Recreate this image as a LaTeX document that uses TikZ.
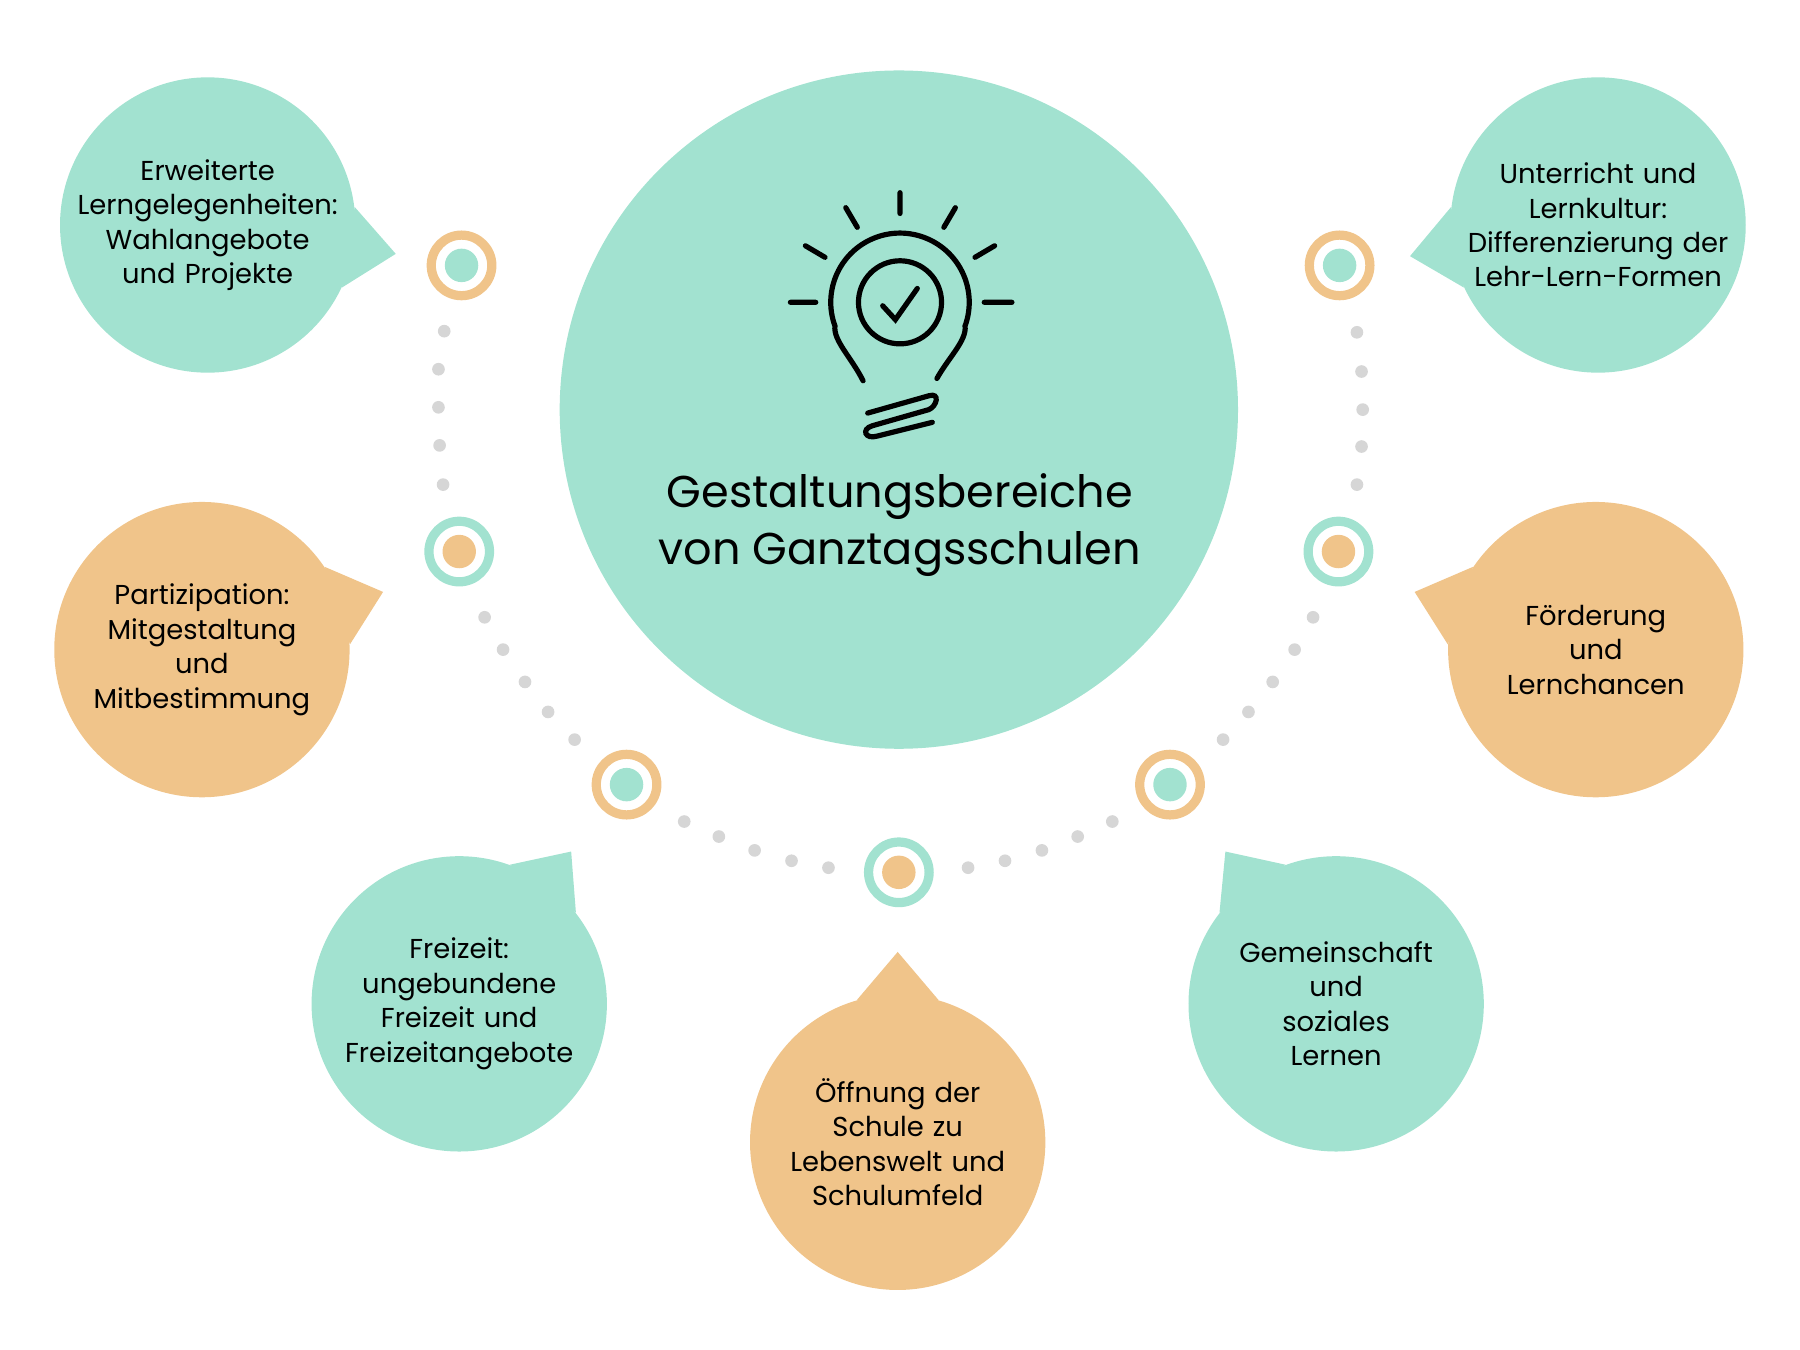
\documentclass[tikz,border=0pt]{standalone}
\usepackage{fontspec}
\setmainfont{Poppins}
\usetikzlibrary{positioning,calc}
\definecolor{mint}{HTML}{A2E2D0}
\definecolor{sand}{HTML}{F0C48A}
\definecolor{dotgray}{HTML}{D6D6D6}
\tikzset{
  bubble/.style={circle,minimum size=5.12cm,inner sep=0pt,text width=5cm,
    align=center,font=\fontsize{13.5}{17}\selectfont},
  mintbubble/.style={bubble,fill=mint},
  sandbubble/.style={bubble,fill=sand},
  ring/.style={circle,minimum size=1.05cm,inner sep=0pt,line width=0.16cm,draw=#1},
  hub/.style={circle,minimum size=0.58cm,inner sep=0pt,fill=#1},
  ray/.style={line width=0.09cm,line cap=round}
}
% tail of a speech bubble: node, angle, tip
\newcommand{\tail}[4]{\fill[#4] (#1.#2+16) -- (#3) -- (#1.#2-16) -- cycle;}
\begin{document}
\begin{tikzpicture}[x=0.02cm,y=-0.02cm]
  \useasboundingbox (0,0) rectangle (1560,1170);
  % centre
  \node (main) [circle,fill=mint,minimum size=11.76cm] at (779,355) {};
  \node (title) [align=center,font=\fontsize{22}{28}\selectfont] at (780,455)
    {Gestaltungsbereiche\\von Ganztagsschulen};
  % bulb
  \draw[ray] (780,167) -- (780,185) (733,180) -- (743,197) (828,180) -- (818,197)
    (698,213) -- (715,223) (862,213) -- (845,223) (685,262) -- (707,262) (853,262) -- (877,262);
  \draw[ray] (748,330) .. controls (738,310) and (722,295) .. ($(780,262)+(160:60)$)
    arc[start angle=160,end angle=380,radius=60]
    .. controls (838,295) and (822,310) .. (812,328);
  \draw[ray] (780,262) circle[radius=36];
  \draw[ray] (765,265) -- (776,277) -- (795,250);
  \draw[ray] (752,358) -- (805,343) .. controls (815,340) and (812,352) .. (805,355)
    -- (756,369) .. controls (746,372) and (750,381) .. (760,378) -- (808,366);
  % dots
  \foreach \p in {(385,287),(380,320),(380,353),(381,386),(384,420),
                  (420,535),(436,563),(455,591),(475,617),(498,641),
                  (593,712),(623,725),(654,737),(686,746),(718,752),
                  (1176,288),(1180,322),(1181,355),(1180,387),(1176,420),
                  (1138,535),(1122,563),(1103,591),(1082,617),(1060,641),
                  (964,712),(934,725),(903,737),(871,746),(839,752)}
    \fill[dotgray] \p circle[radius=5.5];
  % markers
  \node (r1) [ring=sand] at (400,230) {};   \node [hub=mint] at (r1) {};
  \node (r2) [ring=mint] at (398,478) {};   \node [hub=sand] at (r2) {};
  \node (r3) [ring=sand] at (543,680) {};   \node [hub=mint] at (r3) {};
  \node (r4) [ring=mint] at (779,756) {};   \node [hub=sand] at (r4) {};
  \node (r5) [ring=sand] at (1014,680) {};  \node [hub=mint] at (r5) {};
  \node (r6) [ring=mint] at (1160,478) {};  \node [hub=sand] at (r6) {};
  \node (r7) [ring=sand] at (1161,230) {};  \node [hub=mint] at (r7) {};
  % bubbles
  \coordinate (t1) at (343,220);  \coordinate (t2) at (332,513);
  \coordinate (t3) at (495,738);  \coordinate (t4) at (778,825);
  \coordinate (t5) at (1062,738); \coordinate (t6) at (1226,513);
  \coordinate (t7) at (1222,222);
  \node (b1) [mintbubble] at (180,195) {};
  \node (b2) [sandbubble] at (175,563) {};
  \node (b3) [mintbubble] at (398,870) {};
  \node (b4) [sandbubble] at (778,990) {};
  \node (b5) [mintbubble] at (1158,870) {};
  \node (b6) [sandbubble] at (1383,563) {};
  \node (b7) [mintbubble] at (1385,195) {};
  \tail{b1}{-9}{t1}{mint}   \tail{b2}{18}{t2}{sand}
  \tail{b3}{54}{t3}{mint}   \tail{b4}{90}{t4}{sand}
  \tail{b5}{126}{t5}{mint}  \tail{b6}{162}{t6}{sand}
  \tail{b7}{189}{t7}{mint}
  \node [bubble] at (b1) {Erweiterte\\Lerngelegenheiten:\\Wahlangebote\\und Projekte};
  \node [bubble] at (b2) {Partizipation:\\Mitgestaltung\\und\\Mitbestimmung};
  \node [bubble] at (b3) {Freizeit:\\ungebundene\\Freizeit und\\Freizeitangebote};
  \node [bubble] at (b4) {Öffnung der\\Schule zu\\Lebenswelt und\\Schulumfeld};
  \node [bubble] at (b5) {Gemeinschaft\\und\\soziales\\Lernen};
  \node [bubble] at (b6) {Förderung\\und\\Lernchancen};
  \node [bubble] at (b7) {Unterricht und\\Lernkultur:\\Differenzierung der\\Lehr-Lern-Formen};
\end{tikzpicture}
\end{document}
